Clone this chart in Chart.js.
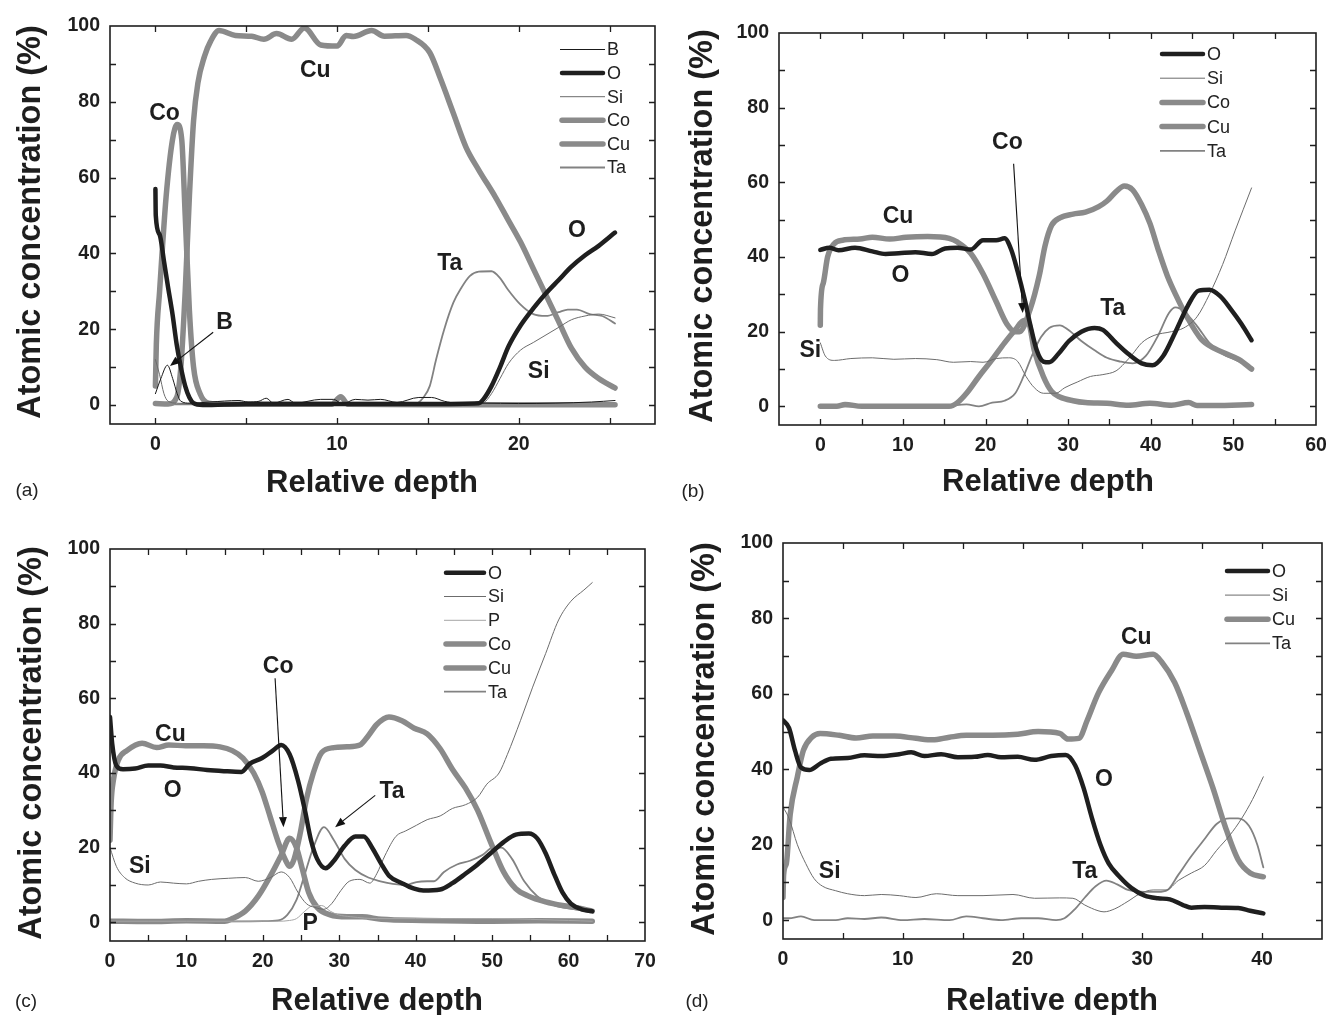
<!DOCTYPE html>
<html><head><meta charset="utf-8">
<script src="https://cdn.jsdelivr.net/npm/chart.js@4.4.1/dist/chart.umd.min.js"></script>
<style>
html,body{margin:0;padding:0;background:#fff}
body{width:1326px;height:1015px;position:relative;overflow:hidden}
canvas{position:absolute;display:block}
</style></head><body>
<canvas id="ca" width="663" height="507" style="left:0;top:0"></canvas>
<canvas id="cb" width="663" height="507" style="left:663px;top:0"></canvas>
<canvas id="cc" width="663" height="508" style="left:0;top:507px"></canvas>
<canvas id="cd" width="663" height="508" style="left:663px;top:507px"></canvas>
<script>
// ---------- tick labels ----------
const ticksY = [0,20,40,60,80,100];
const ticksXa = [0,10,20];
const ticksXb = [0,10,20,30,40,50,60];
const ticksXc = [0,10,20,30,40,50,60,70];
const ticksXd = [0,10,20,30,40];

// ---------- panel (a) ----------
const aB = [[0,3],[0.3,7],[0.66,10.5],[0.95,7],[1.2,3],[1.4,1],[1.9,0.5],[3,0.8],[4.6,1.2],[5.1,0.8],[5.7,1],[6.1,1.8],[6.5,0.5],[7.3,1.5],[7.7,0.5],[9.1,1.5],[9.8,1.5],[10.3,0.3],[11,1.5],[11.7,1.3],[12.4,1.5],[13.3,0.7],[14.5,2],[15.2,2],[15.9,1],[16.6,0.5],[18,0.5],[20,0.4],[22,0.5],[24,0.8],[25.3,1.2]];
const aO = [[0,57],[0.02,50],[0.23,45],[0.47,38],[0.7,31],[0.94,24],[1.17,16],[1.4,10],[1.64,5],[1.87,2],[2.1,0.5],[2.6,0],[5,0.3],[10,0.3],[15,0.3],[17.8,0.5],[18.05,1.5],[18.5,5],[18.97,10],[19.44,15.5],[20.1,21],[20.8,25.5],[21.5,29.5],[22.2,33],[22.9,36.5],[23.65,39.5],[24.4,42],[25.3,45.5]];
const aSi = [[0,12],[0.23,8],[0.47,3],[0.7,1],[1.17,0.5],[3,0.3],[10,0.3],[17.8,0.3],[18.05,0.5],[18.5,3],[18.97,7],[19.44,11],[20.1,14.5],[20.8,16.5],[21.5,18.5],[22.2,20.5],[22.9,22.5],[23.65,23.5],[24.4,24],[25.3,23]];
const aCo = [[0,5],[0.05,16],[0.23,30],[0.59,55],[0.94,70],[1.2,74],[1.45,70],[1.64,50],[1.87,25],[2.1,10],[2.46,3],[2.93,0.5],[4,0.2],[9.7,0.2],[10.2,2.2],[10.6,0.2],[15,0.1],[20,0.1],[25.3,0.1]];
const aCu = [[0,0.4],[0.7,0.3],[1.17,2],[1.4,10],[1.64,30],[1.87,55],[2.1,75],[2.34,85],[2.7,92],[3.04,96],[3.5,98.8],[4.4,97.5],[5.3,97.3],[5.97,96.5],[6.67,98],[7.5,96.5],[8.2,99.5],[9.1,95],[10,94.7],[10.5,97.5],[10.9,97.2],[11.9,98.8],[12.6,97.3],[13.8,97.5],[14.3,96.5],[15.1,93],[15.7,86],[16.4,77],[17.1,68],[17.8,62],[18.7,55],[19.4,49],[20.1,43],[20.8,36],[21.5,29],[22.2,22],[22.9,15],[23.65,10],[24.4,7],[25.3,4.5]];
const aTa = [[0,0.2],[5,0.2],[10,0.2],[14.3,0.3],[14.75,2],[15.1,5],[15.45,12],[15.9,20],[16.4,27],[16.85,31],[17.3,34],[17.8,35.2],[18.5,35.3],[18.97,33.5],[19.4,30.5],[20.1,26.5],[20.8,24],[21.5,23.5],[22.2,24.5],[22.7,25.2],[23.2,25.2],[23.9,24],[24.6,23.5],[25.3,21.5]];

// ---------- panel (b) ----------
const bO = [[0,41.9],[1.1,42.5],[2.2,41.8],[4.2,42.5],[6.3,41.5],[7.9,40.8],[9.5,41],[11.5,41.3],[13.5,40.8],[15.1,42.3],[16.6,42.5],[18.2,42],[19.7,44.5],[21.3,44.5],[22.3,45],[23.1,42],[23.9,36],[24.7,29],[25.4,22],[26.2,15],[27,12],[27.7,11.8],[28.8,14],[30.1,17.5],[31.6,20],[33.2,21],[34.2,20.5],[35.8,17],[37.3,14],[38.9,11.5],[40.2,11],[41.5,13.5],[43,20],[44.5,27],[45.8,31],[47.1,31.2],[48.4,29.5],[49.7,26],[51,22],[52.2,17.7]];
const bSi = [[0,17],[0.6,13.5],[1.7,12.3],[3.7,12.8],[6.3,13],[8.9,12.6],[11.5,12.8],[14.1,12.5],[16.1,11.8],[18.2,12],[19.7,11.8],[21.3,12.8],[22.8,13],[23.9,12],[24.9,8],[25.9,5],[27,3.5],[28.5,3.5],[29.6,5],[31.1,6.5],[32.7,8],[34.2,8.5],[35.8,9.5],[36.8,11.5],[37.8,14],[38.9,17],[40.4,19],[42.5,20],[44,21],[45.6,24],[47.1,30],[48.7,38],[50.2,47],[52.2,58.5]];
const bCo = [[0,0],[2,0],[3,0.5],[5,0],[10,0],[15.6,0],[16.6,1],[17.7,3.5],[19.2,8],[20.8,12.5],[22.3,17],[23.6,20.5],[24.65,23],[25.2,22.5],[25.9,15],[27,8],[28,4],[29,2.5],[30.6,1.5],[32.1,1],[34.7,0.8],[37.3,0.3],[39.9,0.8],[42.5,0.3],[44.6,1],[45.6,0.2],[47.7,0.2],[52.2,0.5]];
const bCu = [[0,21.7],[0.02,26],[0.36,33],[0.88,40],[1.65,43.5],[2.7,44.5],[4.8,44.8],[6.3,45.3],[8.4,44.8],[10.4,45.3],[13,45.5],[15.6,45],[16.6,44],[18.2,41],[19.7,35.5],[21.3,28],[22.6,22],[23.6,20],[24.1,20],[25.4,26],[26.5,35],[27.2,43],[28,48.5],[29,50.5],[30.6,51.5],[32.1,52],[33.7,53.5],[34.7,55],[35.8,57.5],[36.8,59],[37.8,58],[38.9,54],[39.9,49],[40.9,42],[42,35],[43,30],[44.5,23.5],[46.1,18],[47.7,15.5],[49.2,14],[50.7,12.5],[52.2,10]];
const bTa = [[0,0],[5,0],[10,0],[15,0],[17.7,0.5],[19.2,0],[20.8,1],[22.3,1.5],[23.6,3.5],[24.6,8],[25.7,14],[26.7,18.5],[27.7,21],[29,21.7],[30,20.5],[31.6,17.5],[33.2,15],[34.7,13],[36.3,12],[37.8,11.5],[39.4,13.5],[40.9,19],[42.2,25],[43,26.5],[44,25.5],[45.6,21.5],[47.1,17],[48.7,14],[50.2,12.5],[52.2,10.5]];

// ---------- panel (c) ----------
const cO = [[0,55],[0.28,48],[0.83,42],[1.7,41],[3.3,41.2],[5,42],[6.6,42],[8.3,41.5],[10.5,41.3],[12.7,40.8],[14.9,40.5],[17.2,40.3],[18.3,42.5],[19.9,44],[21.3,46],[22.4,47.5],[23.5,45],[24.6,38],[25.5,30],[26.3,22],[27.1,17],[28.2,14.5],[29.3,16.5],[30.7,20.5],[32.1,23],[33.2,23],[34.3,20],[35.4,16],[36.5,12.5],[38.2,10.5],[39.8,9],[41,8.5],[43.2,8.8],[44.8,10.5],[46.5,13],[48.1,15.5],[49.8,18.5],[51.5,21.5],[53.1,23.5],[54.8,23.8],[55.9,22.5],[57,18.5],[58.1,13],[59.2,8],[60.3,5],[61.7,3.5],[63.1,3]];
const cSi = [[0,20],[0.83,15],[1.9,12],[3.3,10.5],[5,10],[6.6,10.8],[8.3,10.5],[10,10.3],[11.6,11],[13.3,11.5],[15.5,11.8],[17.7,12],[19.4,11],[21,12],[22.4,13.5],[23.5,12],[24.6,8],[25.7,5],[26.8,4],[28,3.5],[29,5],[30.2,8.5],[31.3,11],[32.7,11.5],[34,10.5],[34.9,13],[36,18],[37.4,23],[38.7,24.5],[40.1,26],[41.5,27.5],[43.2,28.5],[44.8,30.5],[46.5,31.5],[48.1,33.5],[49.3,37],[50.9,40],[52,45],[53.7,54],[55.3,63],[57,72],[58.7,81],[60.3,86],[62,89],[63.1,91]];
const cP = [[0,0.3],[10,0.3],[20,0.3],[22,0.3],[23.5,0.5],[24.4,1],[25.5,3],[26.6,4.5],[27.7,4.5],[28.8,3],[29.9,2],[31.5,1.5],[35,1],[40,1],[45,1],[50,1],[55,0.8],[60,0.5],[63.1,0.3]];
const cCo = [[0,0.3],[5,0.2],[10,0.4],[15,0.3],[16,1],[17.7,3],[19.4,7],[21,12.5],[22.4,18],[23.5,22.5],[24.4,20],[25.2,14],[26,8],[27.1,4],[28.8,2],[31,1.5],[33,1.5],[35.5,0.8],[41,0.5],[50,0.3],[56,0.4],[63.1,0.3]];
const cCu = [[0,22],[0.15,32],[0.44,38],[1.1,43.5],[2.2,46],[4.2,48],[6.1,46.8],[7.7,47.5],[9.9,47.3],[12.2,47.3],[14.4,47],[16,46],[17.4,44],[18.8,40],[19.9,35],[21,28],[22.1,21],[23,16.5],[23.5,15],[24.1,17],[24.9,24],[25.7,33],[26.6,40],[27.7,45.5],[29.3,46.8],[31,47],[32.7,47.5],[33.8,50],[34.9,53],[36.5,55],[38.2,54],[39.8,52],[41.5,50.5],[43.2,46.5],[44.8,41],[46.5,36],[48.1,30],[49.8,21.5],[51.5,13.5],[53.1,9],[54.8,7],[57,5.5],[59.2,4.5],[61.4,3.8],[63.1,3]];
const cTa = [[0,0.3],[10,0.2],[20,0.3],[22,0.5],[23.2,2],[24.4,6],[25.5,13],[26.6,20],[28,25.5],[29.3,22],[30.7,17],[32.1,14],[33.8,12],[35.4,11],[37,10.3],[38.7,10],[40.1,10.8],[41.5,11],[42.4,11],[43.7,13.5],[45.4,15.5],[47.1,16.5],[48.7,18],[50.1,20],[51.2,20],[52.6,17],[54.2,11],[55.9,7],[57.5,5],[59.2,4],[60.9,3.5],[63.1,3]];

// ---------- panel (d) ----------
const dO = [[0,53],[0.5,51],[1,45],[1.5,40.5],[2.2,39.8],[3.1,41.5],[4,42.8],[5.4,43],[6.8,43.7],[8.2,43.5],[9.7,44],[10.7,44.5],[11.8,43.5],[13.2,44],[14.6,43.2],[16,43.3],[17.1,43.8],[18.2,43.2],[19.6,43.3],[21,42.5],[22.4,43.5],[23.6,43.8],[24.4,41],[25.1,35],[25.8,27],[26.5,20],[27.2,15],[28.1,11.5],[29.1,8.5],[30.2,6.5],[31.3,5.8],[32.3,5.5],[33.4,4],[34.1,3.3],[35.2,3.5],[36.6,3.3],[38,3.2],[39,2.5],[40.1,1.8]];
const dSi = [[0,30],[0.5,27],[1.2,20],[1.9,15],[2.6,11],[3.3,9],[4.4,7.8],[5.4,7],[6.8,6.5],[8.2,6.8],[9.7,6.5],[11.1,6],[12.8,7],[14.6,6.5],[16.7,6.5],[19.2,6.8],[21,5.8],[23.1,5.9],[24.2,5.8],[25.2,4],[26.3,2.5],[26.8,2.2],[27.7,3],[28.8,5],[29.8,7],[30.9,8],[32,8],[33,10.5],[34.1,12.5],[35.2,14.5],[36.2,18.5],[37.3,22.5],[38.3,27],[39.2,32],[40.1,38]];
const dCu = [[0,6],[0.05,12],[0.28,15],[0.6,28],[1.2,38],[1.7,45],[2.4,48.5],[3.1,49.5],[4.7,49],[6.1,48.3],[7.5,48.8],[9.3,48.8],[11.1,48.2],[12.5,47.8],[13.9,48.5],[15.3,49],[17.5,49],[19.6,49.3],[21.3,50],[23.1,49.5],[23.8,48],[24.7,48.2],[25.4,53],[26.3,60],[27.4,66],[28.4,70.5],[29.5,70],[30.9,70.5],[31.6,68.5],[32.7,63],[33.7,55],[34.8,45],[35.9,35],[36.9,25],[38,16],[39,12.5],[40.1,11.5]];
const dTa = [[0,0.5],[0.5,0.5],[1.5,1],[2.6,0],[4.4,0],[5.4,0.5],[6.8,0.3],[8.2,0.7],[10,0],[11.8,0.3],[13.9,0],[15.3,1],[16.7,0.5],[18.2,0],[19.9,0.5],[21.3,0.5],[22.8,0],[23.5,0.5],[24.4,3],[25.2,6],[26.1,9],[27,10.5],[27.9,9.5],[28.8,8],[30.2,7.5],[31.3,7.5],[32.1,8],[33,12],[34.1,17],[35.2,21.5],[36.2,25.5],[37.3,27],[38,27],[38.9,25],[39.6,20],[40.1,14]];

// ---------- styles ----------
const STY = {
  B:{c:'#1a1a1a',w:1},
  O:{c:'#1f1f1f',w:4.5},
  Si:{c:'#6c6c6c',w:1},
  P:{c:'#a6a6a6',w:1},
  Co:{c:'#8a8a8a',w:5.5},
  Cu:{c:'#8a8a8a',w:5.5},
  Ta:{c:'#828282',w:1.8}
};
const FONT = "'Liberation Sans', Arial, Helvetica, sans-serif";
const YTITLE = 'Atomic concentration (%)';
const XTITLE = 'Relative depth';

const panels = [
  {id:'ca', W:663, H:507, xMin:-2.5, xMax:27.5, xTicks:ticksXa,
   area:{left:110, top:26, right:655, bottom:424},
   series:[['B',aB],['O',aO],['Si',aSi],['Co',aCo],['Cu',aCu],['Ta',aTa]],
   legend:{x1:560, x2:605, y0:49.5, dy:23.6},
   yTitle:{bx:40, cy:222}, xTitle:{cx:372, cy:483}, label:{t:'(a)', x:27, y:491},
   notes:[['Cu',8.8,88.2],['Co',0.5,76.9],['B',3.8,21.7],['O',23.2,46],['Ta',16.2,37.3],['Si',21.1,8.8]],
   arrows:[[3.18,19.2,0.8,10.3]]},
  {id:'cb', W:663, H:507, xMin:-5, xMax:60, xTicks:ticksXb,
   area:{left:116, top:33, right:653, bottom:425},
   series:[['O',bO],['Si',bSi],['Co',bCo],['Cu',bCu],['Ta',bTa]],
   legend:{x1:497, x2:542, y0:54, dy:24.2},
   yTitle:{bx:49, cy:226}, xTitle:{cx:385, cy:482}, label:{t:'(b)', x:30, y:492},
   notes:[['Cu',9.4,50.7],['O',9.7,35.1],['Co',22.65,70.6],['Ta',35.4,26.2],['Si',-1.2,15]],
   arrows:[[23.4,65,24.5,25]]},
  {id:'cc', W:663, H:508, xMin:0, xMax:70, xTicks:ticksXc,
   area:{left:110, top:42, right:645, bottom:434},
   series:[['O',cO],['Si',cSi],['P',cP],['Co',cCo],['Cu',cCu],['Ta',cTa]],
   legend:{x1:444, x2:486, y0:65.7, dy:23.8},
   yTitle:{bx:41, cy:236}, xTitle:{cx:377, cy:494}, label:{t:'(c)', x:26, y:495},
   notes:[['Cu',7.9,50.4],['O',8.2,35.4],['Co',22,68.4],['Ta',36.9,34.9],['Si',3.9,15],['P',26.2,-0.3]],
   arrows:[[21.6,65.4,22.7,25.5],[34.7,34,29.45,25.5]]},
  {id:'cd', W:663, H:508, xMin:0, xMax:45, xTicks:ticksXd,
   area:{left:120, top:36, right:659, bottom:432},
   series:[['O',dO],['Si',dSi],['Cu',dCu],['Ta',dTa]],
   legend:{x1:562, x2:607, y0:64, dy:24.1},
   yTitle:{bx:51, cy:232}, xTitle:{cx:389, cy:494}, label:{t:'(d)', x:34, y:495},
   notes:[['Cu',29.5,74.9],['O',26.8,37.3],['Si',3.9,12.8],['Ta',25.2,12.8]],
   arrows:[]}
];

function decor(p){
  return {
    id:'decor_'+p.id,
    afterDraw(chart){
      const {ctx, chartArea:a, scales:{x, y}} = chart;
      ctx.save();
      // frame
      ctx.strokeStyle = '#1e1e1e';
      ctx.lineWidth = 1.6;
      ctx.strokeRect(a.left, a.top, a.right - a.left, a.bottom - a.top);
      // inward tick marks (major + minor) on all four sides
      ctx.lineWidth = 1.3;
      ctx.beginPath();
      const L = 6;
      for (let v = Math.ceil(p.xMin/5)*5; v <= p.xMax + 1e-9; v += 5) {
        const px = Math.round(x.getPixelForValue(v)) + 0.5;
        if (px <= a.left + 2 || px >= a.right - 2) continue;
        ctx.moveTo(px, a.bottom); ctx.lineTo(px, a.bottom - L);
        ctx.moveTo(px, a.top); ctx.lineTo(px, a.top + L);
      }
      for (let v = 0; v <= 100; v += 10) {
        const py = Math.round(y.getPixelForValue(v)) + 0.5;
        if (py <= a.top + 2 || py >= a.bottom - 2) continue;
        ctx.moveTo(a.left, py); ctx.lineTo(a.left + L, py);
        ctx.moveTo(a.right, py); ctx.lineTo(a.right - L, py);
      }
      ctx.stroke();

      // legend
      ctx.font = '18px ' + FONT;
      ctx.textBaseline = 'middle';
      ctx.textAlign = 'left';
      p.series.forEach(([name], i) => {
        const yy = p.legend.y0 + i * p.legend.dy;
        const s = STY[name];
        ctx.strokeStyle = s.c;
        ctx.lineWidth = s.w;
        ctx.lineCap = s.w > 3 ? 'round' : 'butt';
        ctx.beginPath();
        ctx.moveTo(p.legend.x1 + (s.w > 3 ? 2 : 0), yy);
        ctx.lineTo(p.legend.x2 - (s.w > 3 ? 2 : 0), yy);
        ctx.stroke();
        ctx.fillStyle = '#222';
        ctx.fillText(name, p.legend.x2 + 2, yy + 1);
      });
      ctx.lineCap = 'butt';

      // annotations
      ctx.font = 'bold 23px ' + FONT;
      ctx.fillStyle = '#1e1e1e';
      ctx.textAlign = 'center';
      ctx.textBaseline = 'middle';
      p.notes.forEach(([t, vx, vy]) => {
        ctx.fillText(t, x.getPixelForValue(vx), y.getPixelForValue(vy));
      });

      // arrows
      ctx.strokeStyle = '#111';
      ctx.fillStyle = '#111';
      ctx.lineWidth = 1.1;
      p.arrows.forEach(([x0, y0, x1, y1]) => {
        const X0 = x.getPixelForValue(x0), Y0 = y.getPixelForValue(y0);
        const X1 = x.getPixelForValue(x1), Y1 = y.getPixelForValue(y1);
        const ang = Math.atan2(Y1 - Y0, X1 - X0);
        const hl = 10, hw = 4;
        const bx = X1 - hl * Math.cos(ang), by = Y1 - hl * Math.sin(ang);
        ctx.beginPath(); ctx.moveTo(X0, Y0); ctx.lineTo(bx, by); ctx.stroke();
        ctx.beginPath();
        ctx.moveTo(X1, Y1);
        ctx.lineTo(bx + hw * Math.sin(ang), by - hw * Math.cos(ang));
        ctx.lineTo(bx - hw * Math.sin(ang), by + hw * Math.cos(ang));
        ctx.closePath(); ctx.fill();
      });

      // axis titles
      ctx.fillStyle = '#1e1e1e';
      ctx.font = 'bold 32.5px ' + FONT;
      ctx.textAlign = 'center';
      ctx.textBaseline = 'alphabetic';
      ctx.save();
      ctx.translate(p.yTitle.bx, p.yTitle.cy);
      ctx.rotate(-Math.PI / 2);
      ctx.fillText(YTITLE, 0, 0);
      ctx.restore();
      ctx.font = 'bold 31px ' + FONT;
      ctx.textBaseline = 'middle';
      ctx.fillText(XTITLE, p.xTitle.cx, p.xTitle.cy);

      // panel label
      ctx.font = '19px ' + FONT;
      ctx.fillStyle = '#222';
      ctx.fillText(p.label.t, p.label.x, p.label.y);
      ctx.restore();
    }
  };
}

function makeChart(p){
  const ctx = document.getElementById(p.id).getContext('2d');
  const datasets = p.series.map(([name, pts]) => ({
    label: name,
    data: pts.map(([vx, vy]) => ({x: vx, y: vy})),
    borderColor: STY[name].c,
    borderWidth: STY[name].w,
    pointRadius: 0,
    fill: false,
    cubicInterpolationMode: 'monotone',
    borderCapStyle: 'round',
    borderJoinStyle: 'round'
  }));
  new Chart(ctx, {
    type: 'line',
    data: {datasets},
    options: {
      responsive: false,
      animation: false,
      events: [],
      layout: {padding: {left: 0, top: p.area.top, right: p.W - p.area.right, bottom: 0}},
      plugins: {legend: {display: false}, tooltip: {enabled: false}, title: {display: false}},
      scales: {
        x: {
          type: 'linear', min: p.xMin, max: p.xMax,
          grid: {display: false, drawTicks: false}, border: {display: false},
          afterBuildTicks: s => { s.ticks = p.xTicks.map(v => ({value: v})); },
          afterFit: s => { s.height = p.H - p.area.bottom; s.paddingLeft = 0; s.paddingRight = 0; },
          ticks: {font: {family: FONT, size: 19.5, weight: 'bold'}, color: '#1e1e1e', padding: 9, maxRotation: 0, autoSkip: false}
        },
        y: {
          type: 'linear', min: -5, max: 100,
          grid: {display: false, drawTicks: false}, border: {display: false},
          afterBuildTicks: s => { s.ticks = ticksY.map(v => ({value: v})); },
          afterFit: s => { s.width = p.area.left; s.paddingTop = 0; s.paddingBottom = 0; },
          ticks: {font: {family: FONT, size: 19.5, weight: 'bold'}, color: '#1e1e1e', padding: 10, autoSkip: false}
        }
      }
    },
    plugins: [decor(p)]
  });
}
panels.forEach(makeChart);
</script>
</body></html>
